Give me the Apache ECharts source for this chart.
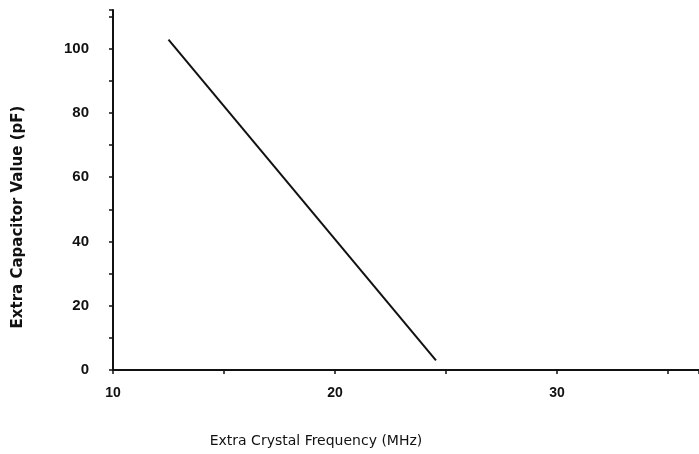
<!DOCTYPE html>
<html style="height: 100%">
   <head>
       <meta charset="utf-8">
   </head>
   <body style="height: 100%; margin: 0; background: #fff">
       <div id="container" style="width: 699px; height: 454px"></div>
       <script type="text/javascript" src="https://cdn.jsdelivr.net/npm/echarts@6/dist/echarts.min.js"></script>
       <script type="text/javascript">
// capacitor vs crystal frequency
var freqMHz = [12.5, 24.55];
var capPF = [102.8, 3];
var xTicks = [10, 20, 30];
var yTicks = [0, 20, 40, 60, 80, 100];

var points = freqMHz.map(function (f, i) {
    return [f, capPF[i]];
});

var myChart = echarts.init(document.getElementById('container'));
var ink = '#111';

var option = {
    backgroundColor: '#fff',
    animation: false,
    grid: {
        left: 113,
        right: 0,
        top: 10,
        bottom: 84
    },
    xAxis: {
        type: 'value',
        min: xTicks[0],
        max: 36.4,
        interval: 10,
        name: 'Extra Crystal Frequency (MHz)',
        nameLocation: 'middle',
        nameGap: 64,
        nameTextStyle: {
            color: ink,
            fontFamily: 'DejaVu Sans',
            fontSize: 14,
            padding: [0, 180, 0, 0]
        },
        axisLine: { lineStyle: { color: ink, width: 2 } },
        axisTick: { inside: false, length: 4, lineStyle: { color: ink, width: 1.5 } },
        minorTick: { show: true, splitNumber: 2, length: 4, lineStyle: { color: ink, width: 1.5 } },
        axisLabel: {
            color: ink,
            fontFamily: 'Liberation Sans',
            fontWeight: 'bold',
            fontSize: 14,
            margin: 16,
            showMaxLabel: false
        },
        splitLine: { show: false }
    },
    yAxis: {
        type: 'value',
        min: yTicks[0],
        max: 112,
        interval: 20,
        name: 'Extra Capacitor Value (pF)',
        nameLocation: 'middle',
        nameGap: 87,
        nameTextStyle: {
            color: ink,
            fontFamily: 'DejaVu Sans',
            fontWeight: 'bold',
            fontSize: 15,
            padding: [0, 54, 0, 0]
        },
        axisLine: { show: true, lineStyle: { color: ink, width: 2 } },
        axisTick: { show: true, length: 4, lineStyle: { color: ink, width: 1.5 } },
        minorTick: { show: true, splitNumber: 2, length: 4, lineStyle: { color: ink, width: 1.5 } },
        axisLabel: {
            color: ink,
            fontFamily: 'Liberation Sans',
            fontWeight: 'bold',
            fontSize: 15,
            margin: 24,
            showMaxLabel: false
        },
        splitLine: { show: false }
    },
    series: [{
        type: 'line',
        data: points,
        showSymbol: false,
        lineStyle: { color: ink, width: 2 }
    }]
};

myChart.setOption(option);
       </script>
   </body>
</html>
